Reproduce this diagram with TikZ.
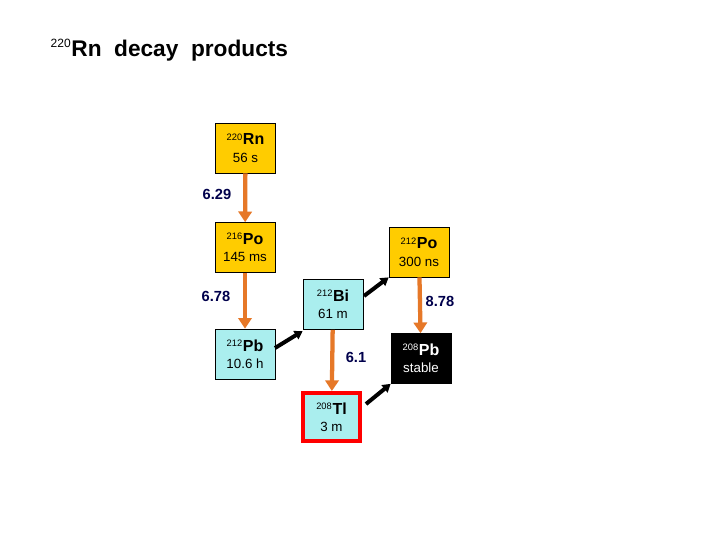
\documentclass[tikz,border=0pt]{standalone}
\usepackage{fontspec}
\setmainfont{Liberation Sans}
\usetikzlibrary{arrows.meta}
\definecolor{oarr}{RGB}{230,120,40}
\definecolor{yelf}{RGB}{255,204,0}
\definecolor{cyaf}{RGB}{170,238,238}
\begin{document}
\begin{tikzpicture}[x=0.75pt,y=-0.75pt,
  box/.style={draw=black,line width=0.5pt,minimum width=45pt,minimum height=37.5pt,align=center,inner sep=0pt,font=\fontsize{10}{13}\selectfont},
  yel/.style={box,fill=yelf},
  cya/.style={box,fill=cyaf},
  oa/.style={draw=oarr,line width=3.2pt,-{Triangle[length=8pt,width=10pt]}},
  ba/.style={draw=black,line width=3pt,-{Triangle[length=6pt,width=7pt]}},
  en/.style={text=blue!30!black,font=\bfseries\fontsize{11}{13}\selectfont}]
\fill[white] (0,0) rectangle (720,540);
\node[anchor=west,font=\bfseries\fontsize{17}{20}\selectfont] (title) at (46,50) {\textsuperscript{\normalfont\small 220}Rn\ \ decay\ \ products};
\node[yel] (rn) at (245.5,148) {\textsuperscript{220}\textbf{\large Rn}\\56 s};
\node[yel] (po216) at (245,247.5) {\textsuperscript{216}\textbf{\large Po}\\145 ms};
\node[cya] (pb212) at (245,354) {\textsuperscript{212}\textbf{\large Pb}\\10.6 h};
\node[cya] (bi) at (333,304.5) {\textsuperscript{212}\textbf{\large Bi}\\61 m};
\node[yel] (po212) at (419,252) {\textsuperscript{212}\textbf{\large Po}\\300 ns};
\node[box,fill=black,text=white] (pb208) at (421,358.5) {\textsuperscript{208}\textbf{\large Pb}\\stable};
\node[cya,draw=red,line width=3pt,minimum width=43pt,minimum height=36pt] (tl) at (331.5,417) {\textsuperscript{208}\textbf{\large Tl}\\3 m};
\draw[oa] (rn) -- (po216);
\draw[oa] (po216) -- (pb212);
\draw[oa] (bi) -- (tl);
\draw[oa] (po212) -- (pb208);
\coordinate (a1) at (275,348);
\coordinate (a2) at (364,296);
\coordinate (a3) at (366,404);
\draw[ba] (a1) -- (bi.south west |- 0,331);
\draw[ba] (a2) -- (po212.south west);
\draw[ba] (a3) -- (pb208.south west);
\node[en] (e1) at (217,194) {6.29};
\node[en] (e2) at (216,296) {6.78};
\node[en] (e3) at (356,357) {6.1};
\node[en] (e4) at (440,301) {8.78};
\end{tikzpicture}
\end{document}
